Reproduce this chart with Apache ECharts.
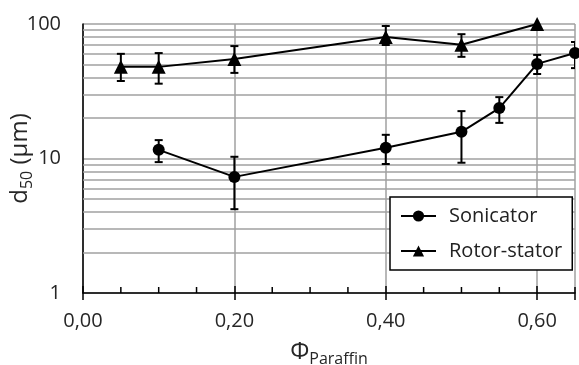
<!DOCTYPE html>
<html><head><meta charset="utf-8">
<script src="https://cdn.jsdelivr.net/npm/echarts@6/dist/echarts.min.js"></script>
<style>html,body{margin:0;padding:0;background:#fff}#c{width:579px;height:365px}</style>
</head><body><div id="c"></div>
<script>
// Data
const sonX  = [0.10, 0.20, 0.40, 0.50, 0.55, 0.60, 0.65];
const sonY  = [11.6, 7.3, 12.0, 15.8, 23.7, 50.5, 60.8];
const sonLo = [9.4, 4.2, 9.1, 9.3, 18.4, 42.5, 47.0];
const sonHi = [13.7, 10.3, 15.0, 22.5, 28.6, 58.9, 73.5];
const rotX  = [0.05, 0.10, 0.20, 0.40, 0.50, 0.60];
const rotY  = [48, 48, 55, 80, 70, 100];
const rotLo = [37.7, 36.0, 43.3, 69.8, 57.0, null];
const rotHi = [60.0, 60.8, 68.5, 96.6, 84.0, null];
const minorGrid = [2,3,4,5,6,7,8,9,20,30,40,50,60,70,80,90];
const xMinorTicks = [0.05,0.10,0.15,0.25,0.30,0.35,0.45,0.50,0.55,0.65];

const FONT = 'Open Sans';
const pts = (xs, ys) => xs.map((x, i) => [x, ys[i]]);
const errs = (xs, lo, hi) => xs.map((x, i) => [x, lo[i], hi[i]]).filter(d => d[1] != null);

function errRender(params, api) {
  const x = api.value(0), lo = api.value(1), hi = api.value(2);
  const a = api.coord([x, lo]), b = api.coord([x, hi]);
  const w = 4;
  const st = { stroke: '#000', lineWidth: 2 };
  return { type: 'group', children: [
    { type: 'line', shape: { x1: a[0], y1: a[1], x2: b[0], y2: b[1] }, style: st },
    { type: 'line', shape: { x1: a[0]-w, y1: a[1], x2: a[0]+w, y2: a[1] }, style: st },
    { type: 'line', shape: { x1: b[0]-w, y1: b[1], x2: b[0]+w, y2: b[1] }, style: st }
  ]};
}
// minor x ticks (above axis), drawn at y=1 through the axes
function tickRender(params, api) {
  const p = api.coord([api.value(0), 1]);
  return { type: 'line', shape: { x1: p[0], y1: p[1], x2: p[0], y2: p[1] - 6 },
    style: { stroke: '#000', lineWidth: 1.5 } };
}

const chart = echarts.init(document.getElementById('c'), null, { renderer: 'canvas' });
chart.setOption({
  animation: false,
  textStyle: { fontFamily: FONT },
  grid: { left: 83, right: 4, top: 24, bottom: 72, containLabel: false, outerBoundsMode: 'none' },
  xAxis: [{
    type: 'value', min: 0, max: 0.65, interval: 0.2,
    axisLine: { lineStyle: { color: '#000', width: 1.5 } },
    axisTick: { show: true, inside: true, length: 7, lineStyle: { color: '#000', width: 1.5 } },
    splitLine: { show: true, lineStyle: { color: '#a0a0a0', width: 1.5 } },
    axisLabel: { fontSize: 20, color: '#262626', margin: 18, showMaxLabel: false,
      formatter: v => v.toFixed(2).replace('.', ',') },
    name: '{m|Φ}{s|Paraffin}', nameLocation: 'middle', nameGap: 45, nameMoveOverlap: false,
    nameTextStyle: { rich: {
      m: { fontSize: 24, color: '#262626', fontFamily: FONT },
      s: { fontSize: 16, color: '#262626', fontFamily: FONT, padding: [13, 0, 0, 0] }
    } }
  }, {
    type: 'value', min: 0, max: 0.65, interval: 0.2, position: 'bottom',
    axisLine: { show: false },
    axisTick: { show: true, inside: false, length: 7, lineStyle: { color: '#000', width: 1.5 } },
    axisLabel: { show: false }, splitLine: { show: false }
  }],
  yAxis: {
    type: 'log', logBase: 10, min: 1, max: 100, interval: 1,
    axisLine: { show: true, lineStyle: { color: '#000', width: 1.5 } },
    axisTick: { show: false },
    splitLine: { show: true, lineStyle: { color: '#a0a0a0', width: 1.5 } },
    axisLabel: { fontSize: 20, color: '#262626', margin: 22 },
    name: '{m|d}{s|50}{m| (µm)}', nameLocation: 'middle', nameGap: 48, nameRotate: 90, nameMoveOverlap: false,
    nameTextStyle: { rich: {
      m: { fontSize: 24, color: '#262626', fontFamily: FONT },
      s: { fontSize: 16, color: '#262626', fontFamily: FONT, padding: [13, 0, 0, 0] }
    } }
  },
  legend: {
    data: ['Sonicator', 'Rotor-stator'], z: 20, zlevel: 0,
    orient: 'vertical', left: 390, top: 197,
    backgroundColor: '#fff', borderColor: '#000', borderWidth: 1.5,
    padding: [6, 10, 6, 10], itemGap: 9, itemWidth: 35, itemHeight: 14,
    textStyle: { fontSize: 20, color: '#222', fontFamily: FONT, padding: [0, 0, 0, 8], lineHeight: 26 }
  },
  series: [
    { type: 'line', name: 'grid', data: [], silent: true, z: 1,
      markLine: { silent: true, z: 1, symbol: ['none', 'none'], label: { show: false },
        lineStyle: { color: '#a0a0a0', width: 1.5, type: 'solid' },
        data: minorGrid.map(v => ({ yAxis: v })) } },
    { type: 'custom', name: 'xMinor', renderItem: tickRender, data: xMinorTicks.map(v => [v]), z: 5, clip: false, silent: true },
    { type: 'custom', name: 'sonErr', renderItem: errRender, data: errs(sonX, sonLo, sonHi), z: 3, clip: true },
    { type: 'custom', name: 'rotErr', renderItem: errRender, data: errs(rotX, rotLo, rotHi), z: 3, clip: true },
    { type: 'line', name: 'Sonicator', data: pts(sonX, sonY), symbol: 'circle', symbolSize: 12,
      clip: false, z: 4, lineStyle: { color: '#000', width: 2 }, itemStyle: { color: '#000' } },
    { type: 'line', name: 'Rotor-stator', data: pts(rotX, rotY), symbol: 'triangle', symbolSize: 14,
      clip: false, z: 4, lineStyle: { color: '#000', width: 2 }, itemStyle: { color: '#000' } }
  ]
});
</script></body></html>
